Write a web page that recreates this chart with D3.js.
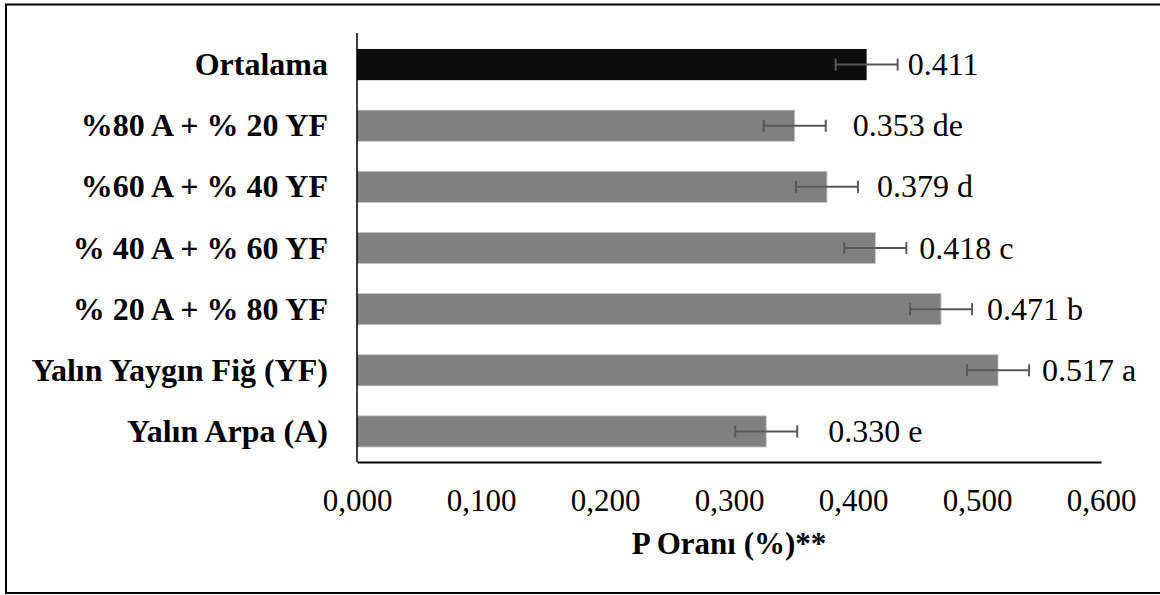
<!DOCTYPE html>
<html>
<head>
<meta charset="utf-8">
<script src="https://cdn.jsdelivr.net/npm/d3@7/dist/d3.min.js"></script>
<style>
  html, body { margin: 0; padding: 0; background: #fff; }
  svg { display: block; }
  text { font-family: "Liberation Serif", "Times New Roman", serif; fill: #000; }
</style>
</head>
<body>
<svg id="chart" width="1160" height="595"></svg>
<script>
// ---- data ----
const categories = [
  "Ortalama",
  "%80 A + % 20 YF",
  "%60 A + % 40 YF",
  "% 40 A + % 60 YF",
  "% 20 A + % 80 YF",
  "Yalın Yaygın Fiğ (YF)",
  "Yalın Arpa (A)"
];
const values = [0.411, 0.353, 0.379, 0.418, 0.471, 0.517, 0.330];
const errors = [0.025, 0.025, 0.025, 0.025, 0.025, 0.025, 0.025];
const letters = ["", "de", "d", "c", "b", "a", "e"];
const tickValues = [0, 0.1, 0.2, 0.3, 0.4, 0.5, 0.6];
const axisTitle = "P Oranı (%)**";

// ---- layout ----
const labelNudge = [-3, 14, 6, 0, 2, 0, 18];
const plot = { left: 357, right: 1101, top: 34, bottom: 462 };

const svg = d3.select("#chart");

// outer border
svg.append("rect")
  .attr("x", 6).attr("y", 4.5)
  .attr("width", 1170).attr("height", 588.5)
  .attr("fill", "#fff").attr("stroke", "#000").attr("stroke-width", 2);

const x = d3.scaleLinear().domain([0, 0.6]).range([plot.left, plot.right]);
const y = d3.scaleBand().domain(categories)
  .range([plot.top, plot.bottom])
  .paddingInner(0.49).paddingOuter(0.245);

// bars
svg.append("g").selectAll("rect")
  .data(categories)
  .join("rect")
  .attr("x", x(0))
  .attr("y", d => y(d))
  .attr("width", (d, i) => x(values[i]) - x(0))
  .attr("height", y.bandwidth())
  .attr("fill", (d, i) => i === 0 ? "#0d0d0d" : "#808080")
  .attr("stroke", (d, i) => i === 0 ? "none" : "#c8c8c8")
  .attr("stroke-width", 0.8);

// error bars
const eg = svg.append("g").attr("stroke", "#595959").attr("stroke-width", 2);
categories.forEach((c, i) => {
  const cy = y(c) + y.bandwidth() / 2;
  const x0 = x(values[i] - errors[i]);
  const x1 = x(values[i] + errors[i]);
  eg.append("line").attr("x1", x0).attr("x2", x1).attr("y1", cy).attr("y2", cy);
  eg.append("line").attr("x1", x0).attr("x2", x0).attr("y1", cy - 6).attr("y2", cy + 6);
  eg.append("line").attr("x1", x1).attr("x2", x1).attr("y1", cy - 6).attr("y2", cy + 6);
});

// value labels
svg.append("g").selectAll("text")
  .data(categories)
  .join("text")
  .attr("x", (d, i) => x(values[i] + errors[i]) + 13 + labelNudge[i])
  .attr("y", d => y(d) + y.bandwidth() / 2 + 10.5)
  .attr("font-size", 32)
  .text((d, i) => values[i].toFixed(3) + (letters[i] ? " " + letters[i] : ""));

// category labels
svg.append("g").selectAll("text")
  .data(categories)
  .join("text")
  .attr("x", 328)
  .attr("y", d => y(d) + y.bandwidth() / 2 + 10.5)
  .attr("text-anchor", "end")
  .attr("font-size", 32)
  .attr("font-weight", "bold")
  .text(d => d);

// axes
const xAxis = d3.axisBottom(x).tickValues(tickValues).tickSize(0)
  .tickFormat(d => d3.format(".3f")(d).replace(".", ","));
const gx = svg.append("g").attr("transform", `translate(0,${plot.bottom})`).call(xAxis);
gx.select(".domain").attr("stroke", "#000").attr("stroke-width", 2);
gx.selectAll("text")
  .attr("font-family", "Liberation Serif, Times New Roman, serif")
  .attr("font-size", 31).attr("fill", "#000")
  .attr("dy", null).attr("y", 49);

const yAxis = d3.axisLeft(y).tickSize(0).tickFormat("");
const gy = svg.append("g").attr("transform", `translate(${plot.left},0)`).call(yAxis);
gy.select(".domain").attr("stroke", "#000").attr("stroke-width", 1.5)
  .attr("d", `M0,${plot.top - 1}V${plot.bottom}`);

// axis title
svg.append("text")
  .attr("x", (plot.left + plot.right) / 2)
  .attr("y", 554)
  .attr("text-anchor", "middle")
  .attr("font-size", 31)
  .attr("font-weight", "bold")
  .text(axisTitle);
</script>
</body>
</html>
